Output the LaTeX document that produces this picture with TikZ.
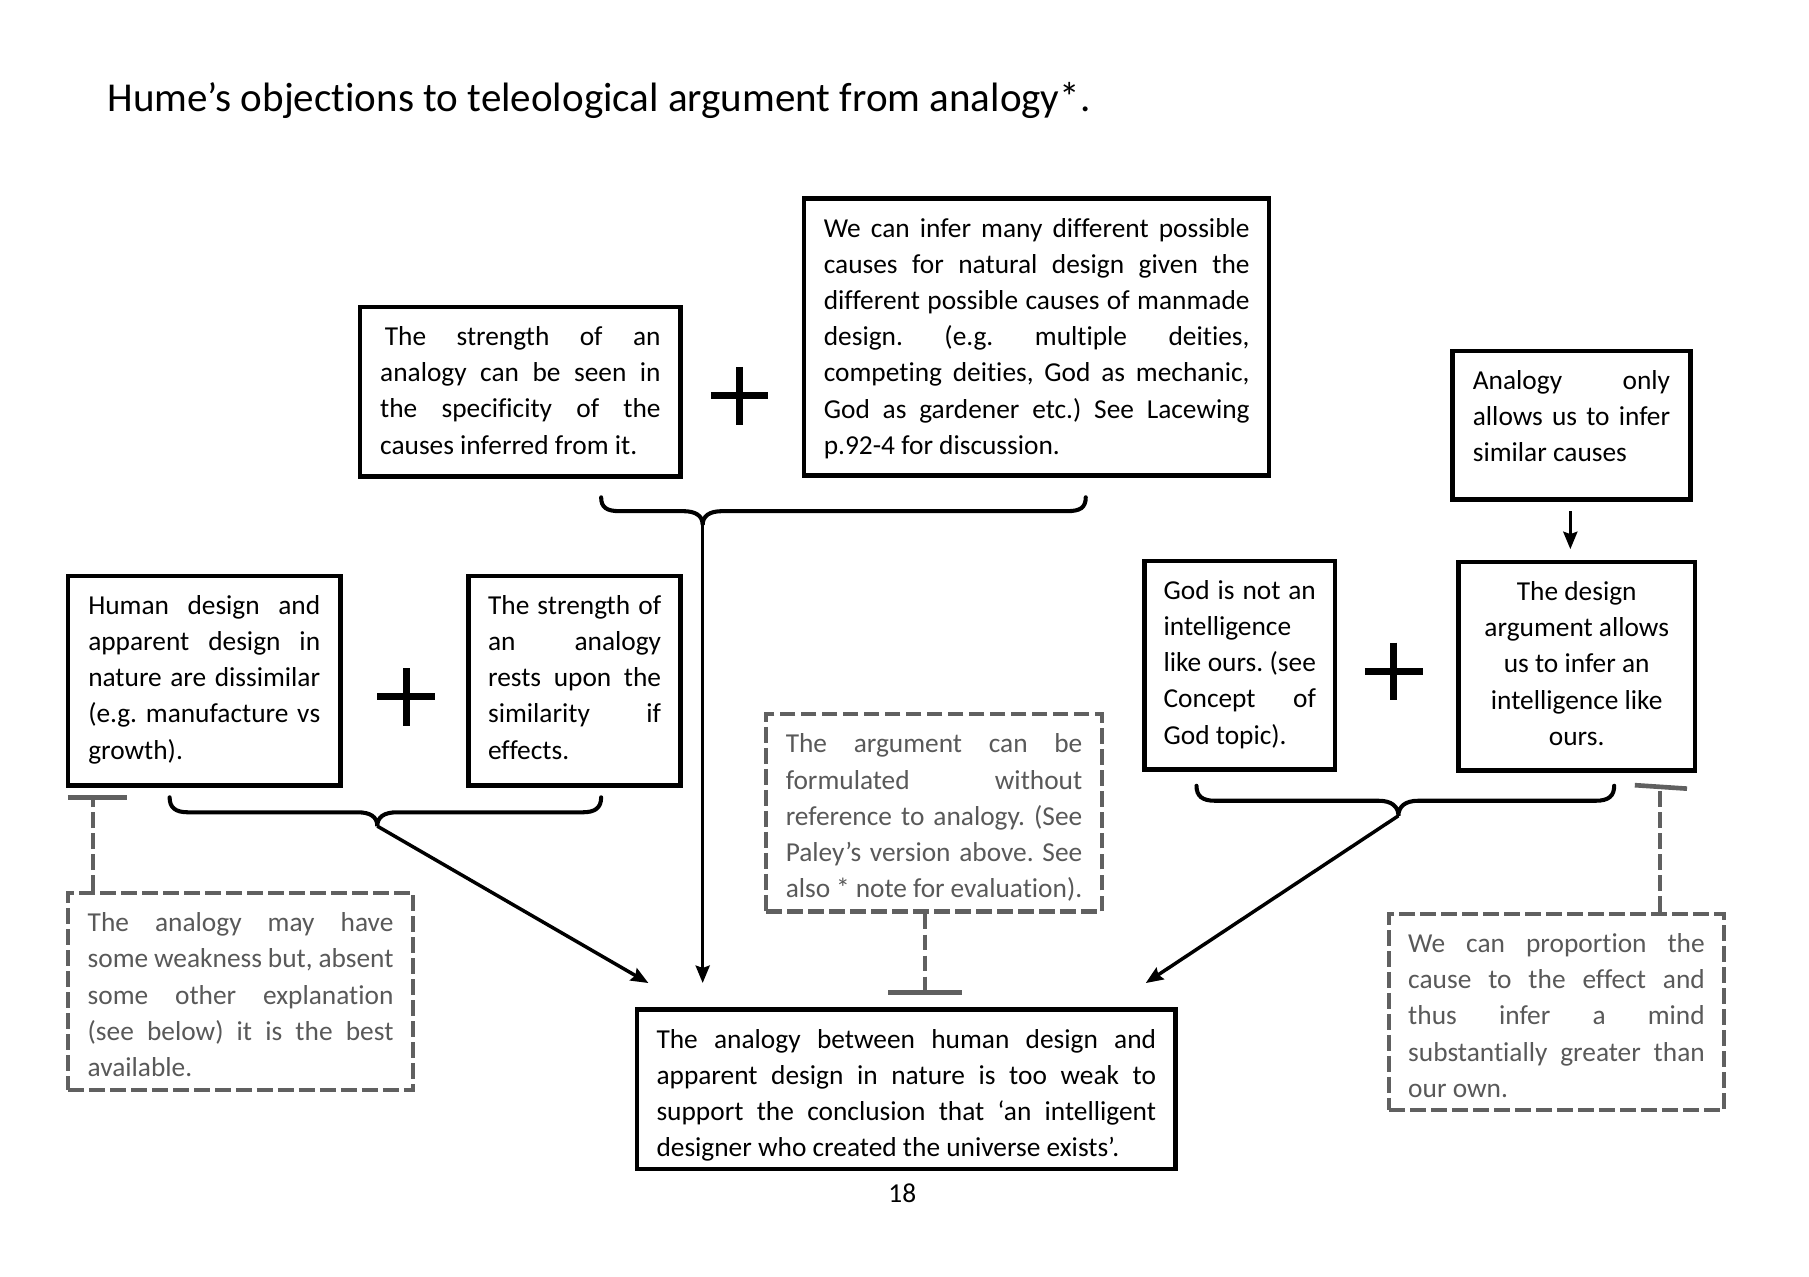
\documentclass[tikz,border=0pt]{standalone}
\usepackage{fontspec}
\setmainfont{Carlito}[Ligatures=CommonOff]
\usetikzlibrary{arrows.meta}
\definecolor{dgray}{HTML}{606060}
\definecolor{tgray}{HTML}{595959}
\frenchspacing
\newcommand\bodyfont{\fontsize{23.6pt}{31.2pt}\selectfont\frenchspacing}
\newcommand\JL[1]{\hbox to\linewidth{\strut #1}}
\newcommand\LL[1]{\hbox to\linewidth{\strut #1\hfil}}
\newcommand\CL[1]{\hbox to\linewidth{\hfil\strut #1\hfil}}
\newcommand\mkbox[8]{%
  \node[#1, minimum width={(#5-#3)*0.995pt}, minimum height={(#6-#4)*0.995pt}] (#2)
    at ({(#3+#5)/2},{(#4+#6)/2})
    {\parbox[c][\dimexpr (#6pt-#4pt)*995/1000-23pt\relax][t]{\dimexpr #7pt*995/1000\relax}{#8}};}
\tikzset{
  bx/.style={draw=black, line width=3.9pt, inner sep=0pt, font=\bodyfont},
  dbx/.style={draw=dgray, text=tgray, line width=3.5pt, dash pattern=on 13.5pt off 4.6pt, inner sep=0pt, font=\bodyfont},
  brace/.style={draw=black, line width=3.5pt, line cap=round},
  arr/.style={draw=black, line width=3pt, -{Stealth[length=15pt,width=12pt,inset=2pt]}},
  pl/.style={draw=black, line width=6pt},
  dcon/.style={draw=dgray, line width=3.5pt, dash pattern=on 13.5pt off 4.6pt},
  bar/.style={draw=dgray, line width=4pt}
}
\begin{document}
\begin{tikzpicture}[x=0.995pt,y=-0.995pt]
\useasboundingbox (0pt,0pt) rectangle (1560pt,-1101pt);
\fill[white] (0pt,0pt) rectangle (1560pt,-1101pt);

\node[anchor=base west, inner sep=0pt, font=\fontsize{35.4pt}{42pt}\selectfont] (title) at (93,97)
  {Hume’s objections to teleological argument from analogy*.};

\mkbox{bx}{A}{312}{266}{590}{413}{243}{%
  \JL{\hspace{4pt}The strength of an}\JL{analogy can be seen in}\JL{the specificity of the}\LL{causes inferred from it.}}
\mkbox{bx}{B}{697}{172}{1100}{412}{369}{%
  \JL{We can infer many different possible}\JL{causes for natural design given the}\JL{different possible causes of manmade}%
  \JL{design. (e.g. multiple deities,}\JL{competing deities, God as mechanic,}\JL{God as gardener etc.) See Lacewing}\LL{p.92-4 for discussion.}}
\mkbox{bx}{C}{59}{499}{295}{681}{201}{%
  \JL{Human design and}\JL{apparent design in}\JL{nature are dissimilar}\JL{(e.g. manufacture vs}\LL{growth).}}
\mkbox{bx}{D}{406}{499}{590}{681}{150}{%
  \JL{The strength of}\JL{an analogy}\JL{rests upon the}\JL{similarity if}\LL{effects.}}
\mkbox{dbx}{E}{59}{774}{358}{945}{265}{%
  \JL{The analogy may have}\JL{some weakness but, absent}\JL{some other explanation}\JL{(see below) it is the best}\LL{available.}}
\mkbox{dbx}{F}{664}{619}{955}{790}{257}{%
  \JL{The argument can be}\JL{formulated without}\JL{reference to analogy. (See}\JL{Paley’s version above. See}\LL{also * note for evaluation).}}
\mkbox{bx}{G}{552}{875}{1019}{1013}{433}{%
  \JL{The analogy between human design and}\JL{apparent design in nature is too weak to}\JL{support the conclusion that ‘an intelligent}\LL{designer who created the universe exists’.}}
\mkbox{bx}{H}{1259}{304}{1465}{433}{171}{%
  \JL{Analogy only}\JL{allows us to infer}\LL{similar causes}}
\mkbox{bx}{I}{992}{486}{1157}{667}{132}{%
  \JL{God is not an}\LL{intelligence}\JL{like ours. (see}\JL{Concept of}\LL{God topic).}}
\mkbox{bx}{J}{1264}{487}{1469}{668}{171}{%
  \CL{The design}\CL{argument allows}\CL{us to infer an}\CL{intelligence like}\CL{ours.}}
\mkbox{dbx}{K}{1204}{792}{1494}{962}{257}{%
  \JL{We can proportion the}\JL{cause to the effect and}\JL{thus infer a mind}\JL{substantially greater than}\LL{our own.}}

\node[anchor=base, inner sep=0pt, font=\bodyfont] (pg) at (782,1042) {18};

% plus signs
\draw[pl] (641,343) +(-25,0) -- +(25,0) (641,343) +(0,-25) -- +(0,25);
\draw[pl] (352,604) +(-25,0) -- +(25,0) (352,604) +(0,-25) -- +(0,25);
\draw[pl] (1208,582) +(-25,0) -- +(25,0) (1208,582) +(0,-25) -- +(0,25);

% brace cusps and arrow ends
\coordinate (cAB) at (609,455);
\coordinate (tAB) at (609,852);
\coordinate (cCD) at (327,716);
\coordinate (tCD) at (562,852);
\coordinate (cIJ) at (1212,707);
\coordinate (tIJ) at (993,852);
\coordinate (hs) at (1361,443);
\coordinate (ht) at (1361,476);

% braces
\draw[brace] (521,431) .. controls (521,440) and (526,443) .. (537,443) -- (592,443)
  .. controls (603,443) and (609,447) .. (cAB)
  .. controls (609,447) and (615,443) .. (626,443) -- (925,443)
  .. controls (936,443) and (941,440) .. (941,431);
\draw[brace] (147,691) .. controls (147,700) and (152,704) .. (163,704) -- (310,704)
  .. controls (321,704) and (327,708) .. (cCD)
  .. controls (327,708) and (333,704) .. (344,704) -- (505,704)
  .. controls (516,704) and (521,700) .. (521,691);
\draw[brace] (1037,681) .. controls (1037,690) and (1042,694) .. (1053,694) -- (1195,694)
  .. controls (1206,694) and (1212,699) .. (cIJ)
  .. controls (1212,699) and (1218,694) .. (1229,694) -- (1383,694)
  .. controls (1394,694) and (1399,690) .. (1399,681);

% arrows
\draw[arr] (cAB) -- (tAB);
\draw[arr] (cCD) -- (tCD);
\draw[arr] (cIJ) -- (tIJ);
\draw[arr] (hs) -- (ht);

% objection connectors
\coordinate (bE) at (81,691);
\coordinate (bF) at (802,860);
\coordinate (bK) at (1439,682);
\draw[dcon] (E.north -| bE) -- (bE);
\draw[bar] ([xshift=-22pt]bE) -- ([xshift=29pt]bE);
\draw[dcon] (F.south -| bF) -- (bF);
\draw[bar] ([xshift=-32pt]bF) -- ([xshift=32pt]bF);
\draw[dcon] (K.north -| bK) -- (bK);
\draw[bar] ([xshift=-22pt,yshift=1.5pt]bK) -- ([xshift=23pt,yshift=-1.5pt]bK);
\end{tikzpicture}
\end{document}
